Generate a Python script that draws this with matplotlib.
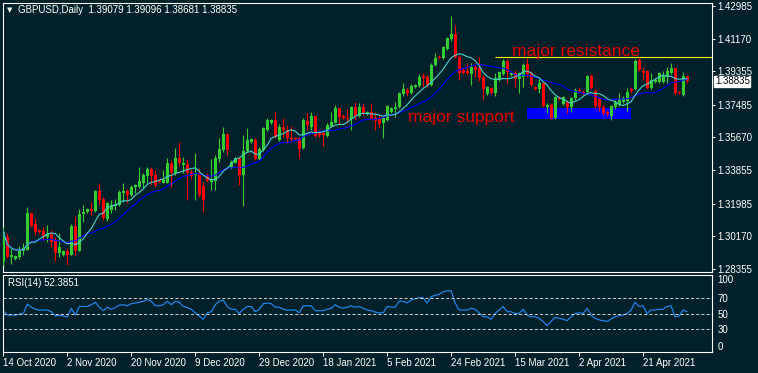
import numpy as np
import pandas as pd
import matplotlib
matplotlib.use("Agg")
import matplotlib.pyplot as plt
import matplotlib.transforms as mtransforms
from matplotlib.patches import Rectangle

plt.rcParams['font.family'] = ['Liberation Sans', 'DejaVu Sans']

# GBPUSD daily bars (oldest first)
opens = [1.2873, 1.3012, 1.2900, 1.2889, 1.2900, 1.2934, 1.2940, 1.3146, 1.3084, 1.3051,
         1.3045, 1.3012, 1.3029, 1.2990, 1.2923, 1.2912, 1.2934, 1.2912, 1.3073, 1.2934,
         1.3140, 1.3151, 1.3168, 1.3157, 1.3268, 1.3224, 1.3112, 1.3162, 1.3185, 1.3190,
         1.3257, 1.3268, 1.3246, 1.3290, 1.3290, 1.3313, 1.3352, 1.3391, 1.3357, 1.3329,
         1.3313, 1.3313, 1.3424, 1.3368, 1.3452, 1.3413, 1.3419, 1.3374, 1.3357, 1.3368,
         1.3296, 1.3357, 1.3318, 1.3324, 1.3446, 1.3497, 1.3586, 1.3396, 1.3424, 1.3452,
         1.3357, 1.3491, 1.3541, 1.3552, 1.3446, 1.3497, 1.3608, 1.3647, 1.3664, 1.3552,
         1.3625, 1.3608, 1.3563, 1.3563, 1.3563, 1.3508, 1.3658, 1.3625, 1.3686, 1.3597,
         1.3591, 1.3574, 1.3630, 1.3647, 1.3730, 1.3686, 1.3675, 1.3669, 1.3736, 1.3686,
         1.3736, 1.3697, 1.3708, 1.3675, 1.3669, 1.3647, 1.3664, 1.3708, 1.3725, 1.3736,
         1.3808, 1.3831, 1.3814, 1.3847, 1.3853, 1.3909, 1.3903, 1.3859, 1.3970, 1.4015,
         1.4009, 1.4059, 1.4115, 1.4143, 1.4015, 1.3942, 1.3937, 1.3920, 1.3959, 1.3953,
         1.3903, 1.3808, 1.3842, 1.3814, 1.3886, 1.3920, 1.3992, 1.3914, 1.3925, 1.3892,
         1.3903, 1.3976, 1.3925, 1.3847, 1.3836, 1.3870, 1.3736, 1.3747, 1.3675, 1.3786,
         1.3753, 1.3764, 1.3736, 1.3786, 1.3831, 1.3820, 1.3820, 1.3909, 1.3825, 1.3781,
         1.3736, 1.3708, 1.3686, 1.3736, 1.3747, 1.3764, 1.3769, 1.3836, 1.3836, 1.3998,
         1.3937, 1.3937, 1.3842, 1.3875, 1.3875, 1.3875, 1.3903, 1.3925, 1.3953, 1.3820,
         1.3803, 1.39079]
highs = [1.3068, 1.3034, 1.2956, 1.2912, 1.2962, 1.2978, 1.3179, 1.3151, 1.3118, 1.3056,
         1.3068, 1.3079, 1.3051, 1.3012, 1.3034, 1.2940, 1.2951, 1.3084, 1.3123, 1.3168,
         1.3190, 1.3173, 1.3207, 1.3274, 1.3313, 1.3235, 1.3207, 1.3218, 1.3224, 1.3274,
         1.3313, 1.3279, 1.3302, 1.3307, 1.3402, 1.3368, 1.3402, 1.3402, 1.3385, 1.3335,
         1.3385, 1.3452, 1.3441, 1.3508, 1.3541, 1.3458, 1.3446, 1.3391, 1.3480, 1.3391,
         1.3318, 1.3368, 1.3446, 1.3469, 1.3563, 1.3625, 1.3591, 1.3441, 1.3458, 1.3458,
         1.3580, 1.3619, 1.3563, 1.3563, 1.3513, 1.3625, 1.3675, 1.3669, 1.3708, 1.3641,
         1.3675, 1.3636, 1.3630, 1.3569, 1.3569, 1.3675, 1.3703, 1.3708, 1.3691, 1.3608,
         1.3597, 1.3647, 1.3708, 1.3747, 1.3736, 1.3697, 1.3725, 1.3742, 1.3764, 1.3758,
         1.3758, 1.3714, 1.3758, 1.3708, 1.3691, 1.3680, 1.3747, 1.3736, 1.3764, 1.3820,
         1.3870, 1.3842, 1.3864, 1.3864, 1.3920, 1.3925, 1.3914, 1.3981, 1.4037, 1.4026,
         1.4076, 1.4126, 1.4243, 1.4193, 1.4026, 1.3959, 1.3981, 1.3981, 1.3981, 1.4015,
         1.3914, 1.3853, 1.3847, 1.3925, 1.3937, 1.4003, 1.4003, 1.3931, 1.3942, 1.3931,
         1.3981, 1.4009, 1.3937, 1.3853, 1.3892, 1.3875, 1.3758, 1.3758, 1.3797, 1.3797,
         1.3797, 1.3775, 1.3792, 1.3842, 1.3847, 1.3831, 1.3914, 1.3920, 1.3836, 1.3792,
         1.3747, 1.3719, 1.3747, 1.3775, 1.3814, 1.3797, 1.3842, 1.3847, 1.4003, 1.4015,
         1.3959, 1.3942, 1.3925, 1.3898, 1.3931, 1.3937, 1.3959, 1.3981, 1.3959, 1.3825,
         1.3931, 1.39096]
lows = [1.2856, 1.2895, 1.2861, 1.2884, 1.2889, 1.2912, 1.2940, 1.3068, 1.3023, 1.3034,
        1.2995, 1.2984, 1.2956, 1.2878, 1.2900, 1.2906, 1.2856, 1.2912, 1.2912, 1.2934,
        1.3095, 1.3146, 1.3134, 1.3151, 1.3190, 1.3107, 1.3101, 1.3146, 1.3162, 1.3185,
        1.3207, 1.3201, 1.3240, 1.3257, 1.3285, 1.3285, 1.3313, 1.3302, 1.3290, 1.3313,
        1.3313, 1.3313, 1.3290, 1.3357, 1.3407, 1.3368, 1.3218, 1.3335, 1.3218, 1.3235,
        1.3151, 1.3318, 1.3274, 1.3274, 1.3430, 1.3485, 1.3469, 1.3391, 1.3424, 1.3302,
        1.3185, 1.3485, 1.3535, 1.3441, 1.3441, 1.3491, 1.3602, 1.3641, 1.3563, 1.3547,
        1.3563, 1.3535, 1.3541, 1.3552, 1.3452, 1.3502, 1.3608, 1.3608, 1.3569, 1.3569,
        1.3519, 1.3569, 1.3625, 1.3647, 1.3636, 1.3669, 1.3647, 1.3608, 1.3664, 1.3680,
        1.3691, 1.3691, 1.3664, 1.3608, 1.3619, 1.3563, 1.3658, 1.3703, 1.3680, 1.3730,
        1.3797, 1.3797, 1.3808, 1.3842, 1.3847, 1.3847, 1.3847, 1.3853, 1.3964, 1.4003,
        1.4003, 1.4053, 1.4104, 1.4009, 1.3886, 1.3920, 1.3914, 1.3859, 1.3903, 1.3881,
        1.3781, 1.3803, 1.3808, 1.3797, 1.3881, 1.3914, 1.3870, 1.3909, 1.3847, 1.3814,
        1.3847, 1.3903, 1.3853, 1.3831, 1.3814, 1.3736, 1.3703, 1.3669, 1.3669, 1.3775,
        1.3747, 1.3703, 1.3708, 1.3775, 1.3820, 1.3803, 1.3814, 1.3836, 1.3730, 1.3714,
        1.3691, 1.3686, 1.3664, 1.3725, 1.3742, 1.3758, 1.3714, 1.3814, 1.3831, 1.3937,
        1.3886, 1.3836, 1.3836, 1.3870, 1.3870, 1.3870, 1.3870, 1.3920, 1.3803, 1.3808,
        1.3797, 1.38681]
closes = [1.3040, 1.2900, 1.2912, 1.2906, 1.2940, 1.2951, 1.3146, 1.3073, 1.3040, 1.3040,
          1.3012, 1.3029, 1.2984, 1.2923, 1.2956, 1.2934, 1.2912, 1.3073, 1.2934, 1.3140,
          1.3151, 1.3168, 1.3157, 1.3268, 1.3218, 1.3118, 1.3201, 1.3190, 1.3196, 1.3263,
          1.3268, 1.3246, 1.3290, 1.3302, 1.3324, 1.3357, 1.3391, 1.3352, 1.3302, 1.3318,
          1.3329, 1.3424, 1.3368, 1.3452, 1.3424, 1.3424, 1.3368, 1.3352, 1.3368, 1.3246,
          1.3218, 1.3324, 1.3335, 1.3452, 1.3502, 1.3586, 1.3497, 1.3430, 1.3452, 1.3357,
          1.3491, 1.3552, 1.3558, 1.3446, 1.3502, 1.3619, 1.3664, 1.3664, 1.3569, 1.3625,
          1.3608, 1.3563, 1.3558, 1.3558, 1.3502, 1.3664, 1.3636, 1.3686, 1.3574, 1.3580,
          1.3580, 1.3636, 1.3652, 1.3730, 1.3680, 1.3675, 1.3669, 1.3736, 1.3686, 1.3736,
          1.3703, 1.3708, 1.3669, 1.3658, 1.3641, 1.3675, 1.3742, 1.3730, 1.3736, 1.3814,
          1.3836, 1.3814, 1.3853, 1.3859, 1.3903, 1.3898, 1.3859, 1.3970, 1.4009, 1.4009,
          1.4070, 1.4120, 1.4143, 1.4015, 1.3925, 1.3925, 1.3925, 1.3959, 1.3942, 1.3898,
          1.3836, 1.3847, 1.3814, 1.3898, 1.3931, 1.3992, 1.3931, 1.3925, 1.3892, 1.3925,
          1.3970, 1.3920, 1.3859, 1.3836, 1.3870, 1.3742, 1.3747, 1.3675, 1.3792, 1.3781,
          1.3792, 1.3736, 1.3786, 1.3831, 1.3825, 1.3814, 1.3909, 1.3842, 1.3742, 1.3736,
          1.3703, 1.3697, 1.3742, 1.3764, 1.3781, 1.3786, 1.3820, 1.3825, 1.3992, 1.3942,
          1.3925, 1.3842, 1.3886, 1.3886, 1.3925, 1.3909, 1.3937, 1.3953, 1.3814, 1.3814,
          1.3909, 1.38835]

# RSI(14) values
rsi_values = [53.6, 47.9, 47.9, 47.9, 49.2, 50.0, 62.3, 58.2, 55.5, 54.5,
              54.5, 54.5, 52.3, 46.7, 47.9, 46.7, 45.8, 56.8, 47.9, 59.1,
              59.1, 59.1, 61.4, 64.5, 58.2, 53.6, 58.2, 55.5, 57.7, 60.9,
              61.4, 60.0, 62.7, 63.6, 64.5, 65.9, 68.2, 65.9, 60.0, 60.0,
              61.4, 65.9, 61.4, 65.9, 64.5, 59.1, 57.7, 55.5, 50.9, 46.7,
              42.5, 50.9, 52.3, 61.4, 65.9, 67.3, 59.1, 55.5, 55.5, 50.0,
              55.5, 59.1, 59.1, 52.3, 55.5, 62.7, 63.6, 62.7, 58.2, 58.2,
              55.5, 54.5, 54.5, 54.5, 50.9, 60.0, 60.0, 60.0, 53.6, 53.6,
              53.6, 55.5, 56.8, 61.4, 58.2, 56.8, 58.2, 60.0, 58.2, 59.1,
              56.8, 54.5, 53.6, 51.8, 50.9, 50.9, 59.1, 58.2, 58.2, 65.9,
              65.9, 63.6, 67.3, 69.1, 70.5, 70.5, 63.6, 71.8, 73.6, 75.0,
              78.2, 79.5, 79.5, 63.6, 54.5, 54.5, 54.5, 56.8, 55.5, 50.9,
              45.8, 45.8, 42.5, 50.0, 54.5, 59.1, 52.3, 52.3, 50.0, 50.0,
              55.5, 47.9, 45.8, 45.8, 43.7, 39.6, 34.2, 39.6, 45.0, 43.7,
              42.5, 40.8, 45.8, 50.0, 50.9, 50.0, 56.8, 47.9, 43.7, 41.7,
              40.8, 39.6, 42.9, 45.8, 47.1, 47.9, 50.0, 54.5, 64.5, 59.1,
              60.0, 50.0, 54.5, 54.5, 55.5, 55.5, 59.1, 60.0, 45.8, 46.7,
              54.5, 52.39]

price_ticks = [1.42985, 1.41170, 1.39355, 1.37485, 1.35670, 1.33855, 1.31985, 1.30170, 1.28355]
rsi_ticks = [100, 70, 50, 30, 0]
rsi_levels = [70, 50, 30]
date_labels = ["14 Oct 2020", "2 Nov 2020", "20 Nov 2020", "9 Dec 2020", "29 Dec 2020",
               "18 Jan 2021", "5 Feb 2021", "24 Feb 2021", "15 Mar 2021", "2 Apr 2021", "21 Apr 2021"]
date_bars = [0, 16, 32, 48, 64, 80, 96, 112, 128, 144, 160]

# hand drawn objects on the chart
resistance_level = 1.4013
resistance_start = 123
support_top = 1.3730
support_bottom = 1.3669
support_start, support_end = 131, 157

BG = "#00202a"
BULL = "#32cd32"
BEAR = "#ff0000"
W, H = 758, 373

def box(l, t, r, b):
    return [l / W, 1 - b / H, (r - l) / W, (b - t) / H]

fig = plt.figure(figsize=(W / 100, H / 100), dpi=100, facecolor=BG)
ax = fig.add_axes(box(3, 3, 712, 272))
ax_rsi = fig.add_axes(box(3, 275, 712, 352))

for a in (ax, ax_rsi):
    a.set_facecolor(BG)
    for s in a.spines.values():
        s.set_color("white")
        s.set_linewidth(0.8)
    a.set_xlim(-0.1, 177.25)

o = np.array(opens)
h = np.array(highs)
l = np.array(lows)
c = np.array(closes)
x = np.arange(len(c))
colors = np.where(c >= o, BULL, BEAR)

# moving averages drawn on the price window
ma_fast = pd.Series(c).rolling(8, min_periods=1).mean()
ma_slow = pd.Series(c).rolling(16, min_periods=1).mean()

ax.add_patch(Rectangle((support_start, support_bottom), support_end - support_start,
                       support_top - support_bottom, color="#0000ff", zorder=1, lw=0))
ax.hlines(resistance_level, resistance_start, 178, color="#ffff00", lw=0.8, zorder=2)

ax.vlines(x, l, h, colors=colors, lw=0.8, zorder=3)
body = np.maximum(np.abs(c - o), 0.00025)
ax.bar(x, body, bottom=np.minimum(o, c), width=0.75, color=colors, lw=0, zorder=4)

ax.plot(x, ma_slow, color="#0000ff", lw=0.8, zorder=5)
ax.plot(x, ma_fast, color="#48d1cc", lw=0.8, zorder=5)

ax.text(127.25, 1.4020, "major resistance", color="#e60000", fontsize=12.5, va="baseline", zorder=6)
ax.text(101.3, 1.3652, "major support", color="#e60000", fontsize=12.5, va="baseline", zorder=6)

ax.set_ylim(1.28170, 1.43153)
ax.yaxis.tick_right()
ax.set_yticks(price_ticks)
ax.set_yticklabels([f"{p:.5f}" for p in price_ticks])
ax.tick_params(axis="y", colors="white", labelsize=7, length=2, width=0.7, pad=2)
ax.set_xticks([])

# last price marker on the axis
trans = mtransforms.blended_transform_factory(ax.transAxes, ax.transData)
ax.text(1.004, c[-1] - 0.0003, f"{c[-1]:.5f}", transform=trans, fontsize=7, color="black",
        va="center", ha="left", clip_on=False, zorder=10,
        bbox=dict(boxstyle="square,pad=0.05", fc="white", ec="white"))

# header
fig.text(7 / W, 1 - 10 / H, "\u25bc", color="white", fontsize=5, va="center", family="DejaVu Sans")
fig.text(18 / W, 1 - 10 / H, "GBPUSD,Daily  %.5f %.5f %.5f %.5f" % (o[-1], h[-1], l[-1], c[-1]),
         color="white", fontsize=7, va="center")

# RSI window
ax_rsi.plot(x, rsi_values, color="#1e90ff", lw=0.8)
for lev in rsi_levels:
    ax_rsi.axhline(lev, color="#c8c8c8", lw=0.75, linestyle=(0, (3, 2)))
ax_rsi.set_ylim(0, 100)
ax_rsi.yaxis.tick_right()
ax_rsi.set_yticks(rsi_ticks)
ax_rsi.set_yticklabels([str(t) for t in rsi_ticks])
ax_rsi.tick_params(axis="y", colors="white", labelsize=7, length=0, pad=4)
for lbl, t in zip(ax_rsi.get_yticklabels(), rsi_ticks):
    if t == 100:
        lbl.set_va("top")
    elif t == 0:
        lbl.set_va("bottom")
ax_rsi.text(5 / 709, 1 - 8 / 77, "RSI(14) %.4f" % 52.3851, transform=ax_rsi.transAxes,
            color="white", fontsize=7, va="center")

ax_rsi.set_xticks(date_bars)
ax_rsi.set_xticklabels(date_labels)
ax_rsi.tick_params(axis="x", colors="white", labelsize=7, length=3, width=0.7, pad=1.5, direction="out")
for lbl in ax_rsi.get_xticklabels():
    lbl.set_ha("left")

fig.savefig("out.png", dpi=100, facecolor=BG)
